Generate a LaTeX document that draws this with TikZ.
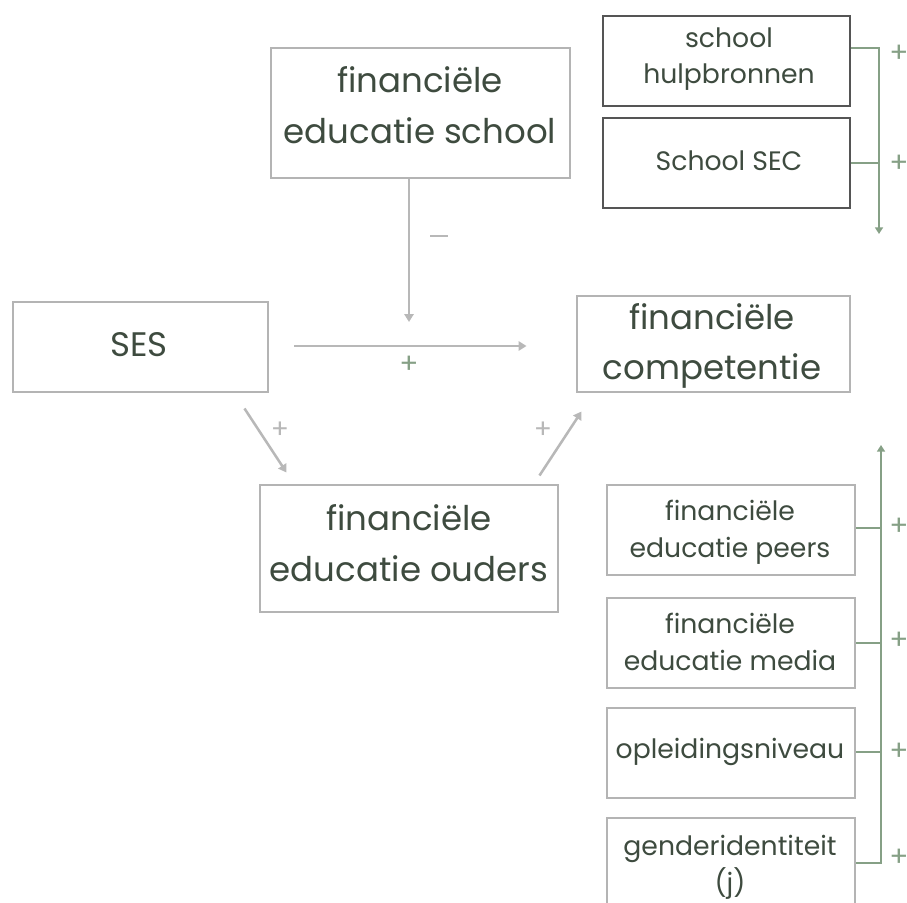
\documentclass[tikz,border=0pt]{standalone}
\usepackage{fontspec}
\setmainfont{Poppins}
\usetikzlibrary{arrows.meta,calc,fit}
\definecolor{txt}{HTML}{3E4B3F}
\definecolor{lightbox}{HTML}{B4B4B4}
\definecolor{darkbox}{HTML}{555555}
\definecolor{arrowgrey}{HTML}{B8B8B8}
\definecolor{sage}{HTML}{86A086}
\begin{document}
\begin{tikzpicture}[x=0.75pt,y=-0.75pt,
  box/.style={draw=lightbox,line width=2.2pt,inner sep=0pt,fill=white},
  darkframe/.style={draw=darkbox,line width=2.2pt,inner sep=0pt,fill=white},
  bigtext/.style={text=txt,align=center,font=\fontsize{25.5}{38}\selectfont,inner sep=0pt},
  smalltext/.style={text=txt,align=center,font=\fontsize{20}{27.5}\selectfont,inner sep=0pt},
  greyarrow/.style={draw=arrowgrey,line width=1.9pt,-{Triangle[length=6pt,width=7pt]}},
  sageline/.style={draw=sage,line width=1.5pt},
  sagearrow/.style={draw=sage,line width=1.5pt,-{Triangle[length=5pt,width=6pt]}},
  greysign/.style={text=arrowgrey,font=\fontsize{20}{20}\selectfont,inner sep=0pt},
  sagesign/.style={text=sage,font=\fontsize{21}{21}\selectfont,inner sep=0pt}]
\useasboundingbox (0,0) rectangle (907,903);

% main boxes
\node[box,fit={(271,48) (570,178)}] (fes) {};
\node[box,fit={(13,302) (268,392)}] (ses) {};
\node[box,fit={(577,296) (850,392)}] (fc) {};
\node[box,fit={(260,485) (558,612)}] (feo) {};

\node[bigtext] (fesT) at (420,105) {financiële\\educatie school};
\node[bigtext] (sesT) at (139,345) {SES};
\node[bigtext] (fcT) at (712,346) {financiële\\competentie};
\node[bigtext] (feoT) at (409,543) {financiële\\educatie ouders};

% school factors
\node[darkframe,fit={(603,16) (850,106)}] (hulp) {};
\node[darkframe,fit={(603,118) (850,208)}] (sec) {};
\node[smalltext] (hulpT) at (729,59) {school\\hulpbronnen};
\node[smalltext] (secT) at (729,161) {School SEC};

% other factors
\node[box,fit={(607,485) (855,575)}] (peers) {};
\node[box,fit={(607,598) (855,688)}] (media) {};
\node[box,fit={(607,708) (855,798)}] (opl) {};
\node[box,fit={(607,818) (855,915)}] (gender) {};
\node[smalltext] (peersT) at (730,532) {financiële\\educatie peers};
\node[smalltext] (mediaT) at (730,642) {financiële\\educatie media};
\node[smalltext] (oplT) at (730,752) {opleidingsniveau};
\node[smalltext] (genderT) at (730,867) {genderidentiteit\\(j)};

% main arrows
\coordinate (mod) at (409,322);
\draw[greyarrow] (fes.south -| mod) -- (mod);
\node[greysign] (minus) at (439,238) {\rule[0.3ex]{0.65em}{1.9pt}};
\draw[greyarrow,shorten <=18.75pt,shorten >=36.75pt] (ses.east |- 0,346) -- (fc.west |- 0,346);
\node[sagesign,text=sage] (plusA) at (409,365) {+};
\draw[greyarrow] ($(ses.south east)+(-25,15)$) -- ($(feo.north west)+(28,-11)$);
\node[greysign] (plusB) at (280,430) {+};
\draw[greyarrow] ($(feo.north east)+(-20,-8)$) -- ($(fc.south west)+(6,18)$);
\node[greysign] (plusC) at (543,430) {+};

% school bracket
\coordinate (topEnd) at (879,234);
\draw[sageline] (hulp.east |- 0,48) -- (879,48);
\draw[sageline] (sec.east |- 0,163) -- (879,163);
\draw[sagearrow] (879,47.3) -- (topEnd);
\node[sagesign] (plusD) at (899,54) {+};
\node[sagesign] (plusE) at (899,164) {+};

% other factors bracket
\coordinate (botEnd) at (881,445);
\draw[sageline] (peers.east |- 0,528) -- (881,528);
\draw[sageline] (media.east |- 0,643) -- (881,643);
\draw[sageline] (opl.east |- 0,752) -- (881,752);
\draw[sageline] (gender.east |- 0,863) -- (881,863);
\draw[sagearrow] (881,863.7) -- (botEnd);
\node[sagesign] (plusF) at (899,527) {+};
\node[sagesign] (plusG) at (899,641) {+};
\node[sagesign] (plusH) at (899,752) {+};
\node[sagesign] (plusI) at (899,858) {+};
\end{tikzpicture}
\end{document}
